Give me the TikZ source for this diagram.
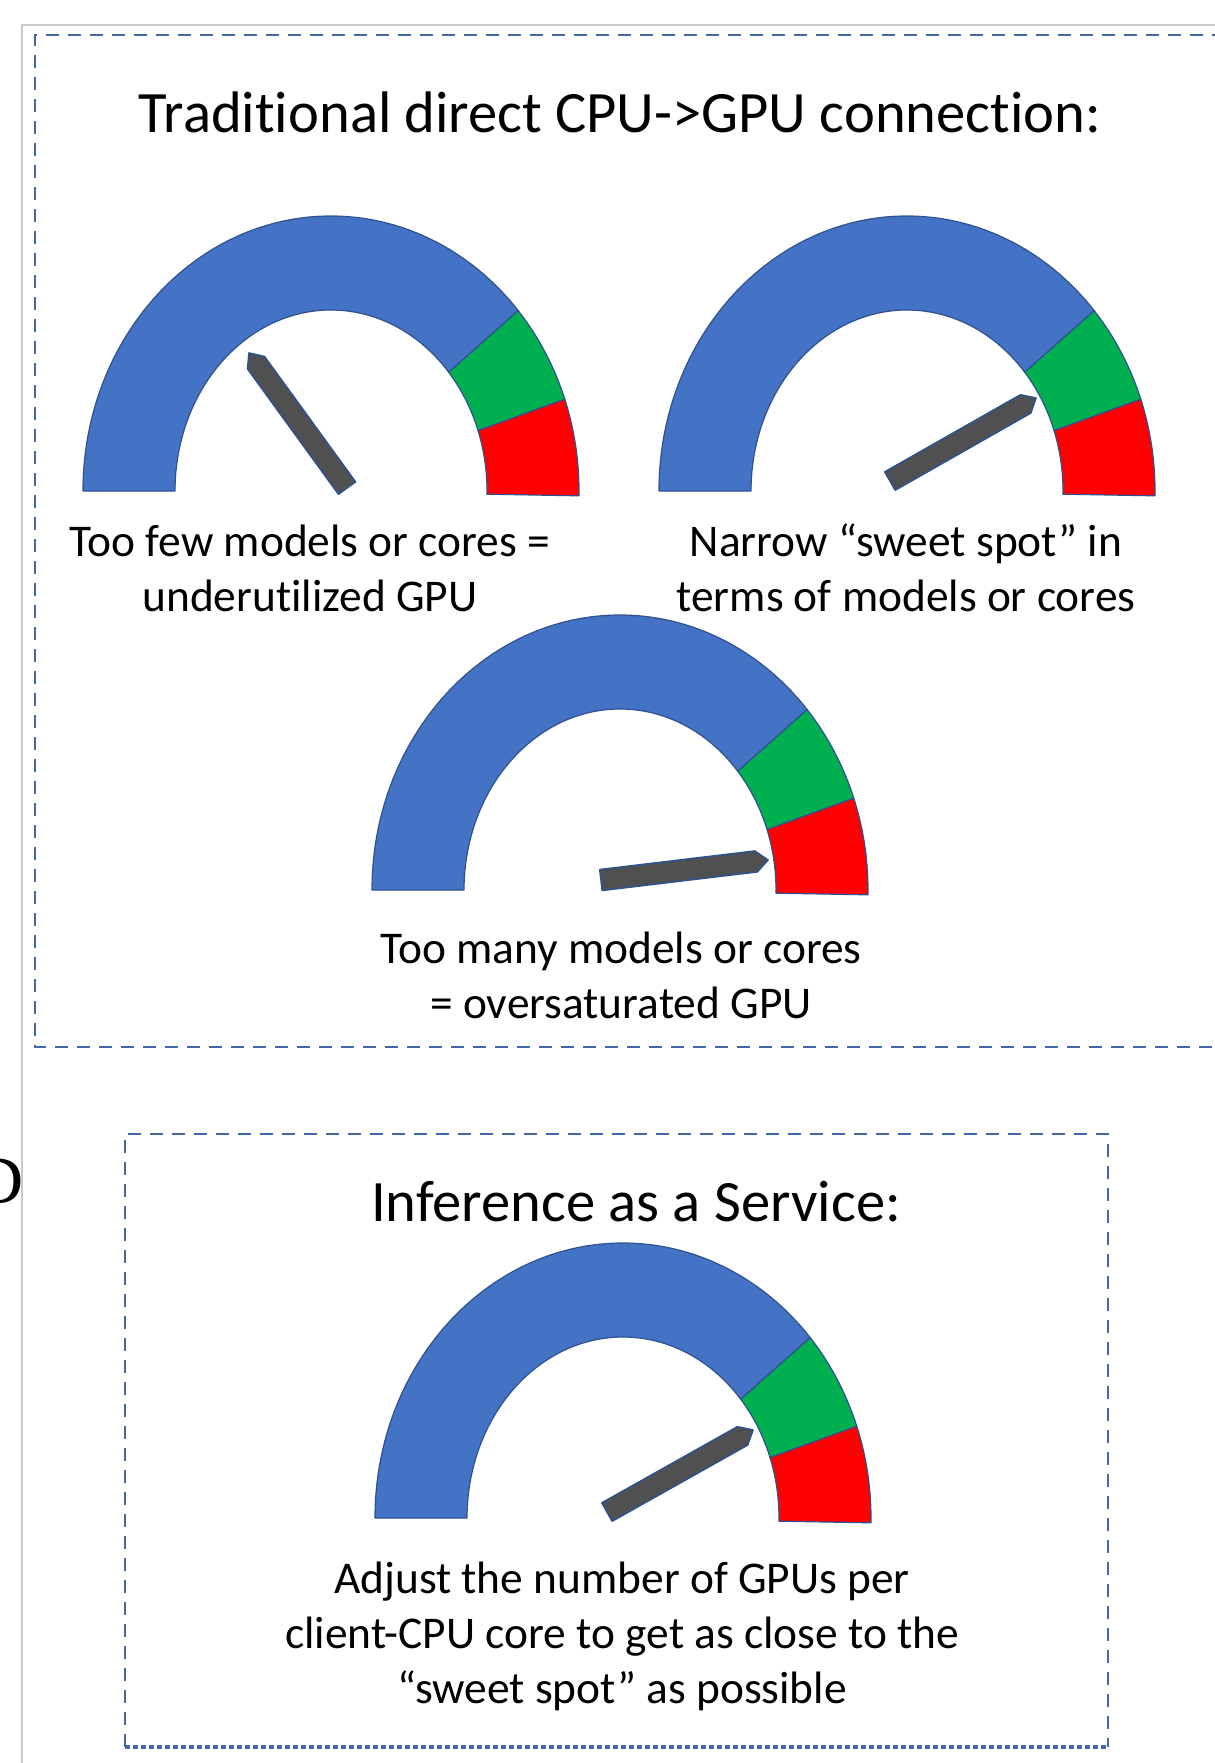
\documentclass[tikz,border=0pt]{standalone}
\usepackage{fontspec}
\setmainfont{Carlito}[Ligatures=NoCommon]
\newfontfamily\serifD{Liberation Serif}
\usetikzlibrary{calc}
\definecolor{gblue}{HTML}{4472C4}
\definecolor{ggreen}{HTML}{00B050}
\definecolor{gred}{HTML}{FF0000}
\definecolor{gline}{HTML}{2F528F}
\definecolor{gneedlec}{HTML}{505050}
\definecolor{boxblue}{RGB}{68,105,170}
\definecolor{framegray}{RGB}{200,200,200}
\newcommand\gseg[4]{%
  \filldraw[fill=#4, draw=gline, line width=0.6pt, line join=round]
   ($(#1)+(#2:248 and 275)$) arc[start angle=#2, end angle=#3, x radius=248, y radius=275]
   -- ($(#1)+(#3:156 and 181)$) arc[start angle=#3, end angle=#2, x radius=156, y radius=181] -- cycle;}
\newcommand\ggauge[1]{\gseg{#1}{180}{41}{gblue}\gseg{#1}{41}{19.5}{ggreen}\gseg{#1}{19.5}{-1}{gred}}
\newcommand\gneedle[3]{%
  \coordinate (#1b) at (#2); \coordinate (#1t) at (#3);
  \coordinate (#1m) at ($(#1t)!6pt!(#1b)$);
  \filldraw[needlestyle] ($(#1b)!5.25pt!90:(#1t)$) -- ($(#1m)!5.25pt!90:(#1t)$) -- (#1t)
    -- ($(#1m)!5.25pt!-90:(#1t)$) -- ($(#1b)!5.25pt!-90:(#1t)$) -- cycle;}
\begin{document}
\begin{tikzpicture}[x=0.5pt,y=0.5pt,
  needlestyle/.style={fill=gneedlec, draw=gline, line width=0.8pt, line join=round},
  dashbox/.style={draw=boxblue, line width=1.4pt, dash pattern=on 6.5pt off 4.5pt},
  dotbox/.style={draw=boxblue, line width=2pt, dash pattern=on 2.4pt off 1.6pt},
  titletext/.style={font=\fontsize{29.3}{35.7}\selectfont, inner sep=0pt, anchor=base},
  captext/.style={font=\fontsize{22.7}{27.5}\selectfont, align=center, inner sep=0pt, anchor=base}]
\useasboundingbox (0,0) rectangle (1215,-1763);
\fill[white] (0,0) rectangle (1215,-1763);
% outer gray frame
\draw[framegray, line width=0.8pt] (1215,-25) -- (22,-25) -- (22,-1763);
% dashed boxes
\draw[dashbox] (1225,-35) -- (35,-35) -- (35,-1047) -- (1225,-1047);
\draw[dashbox] (125,-1747) -- (125,-1134) -- (1108,-1134) -- (1108,-1747);
\draw[dotbox] (125,-1747) -- (1108,-1747);
% stray character at the left
\node[font=\serifD\fontsize{34}{40}\selectfont, anchor=base east, inner sep=0pt] (dchar) at (24,-1203) {D};
% titles
\node[titletext] (title1) at (620,-132) {Traditional direct CPU->GPU connection:};
\node[titletext] (title2) at (636,-1221) {Inference as a Service:};
% gauges
\coordinate (g1) at (331,-491);
\coordinate (g2) at (907,-491);
\coordinate (g3) at (620,-890);
\coordinate (g4) at (623,-1518);
\ggauge{g1}\ggauge{g2}\ggauge{g3}\ggauge{g4}
\gneedle{n1}{347,-488}{249,-353}
\gneedle{n2}{890,-481}{1036,-398}
\gneedle{n3}{601,-880}{768,-860}
\gneedle{n4}{607,-1512}{753,-1430}
% captions (anchor base = baseline of the last line)
\node[captext] (cap1) at (310,-611) {Too few models or cores =\\underutilized GPU};
\node[captext] (cap2) at (906,-611) {Narrow “sweet spot” in\\terms of models or cores};
\node[captext] (cap3) at (621,-1018) {Too many models or cores\\= oversaturated GPU};
\node[captext] (cap4) at (622,-1703) {Adjust the number of GPUs per\\client-CPU core to get as close to the\\“sweet spot” as possible};
\end{tikzpicture}
\end{document}
